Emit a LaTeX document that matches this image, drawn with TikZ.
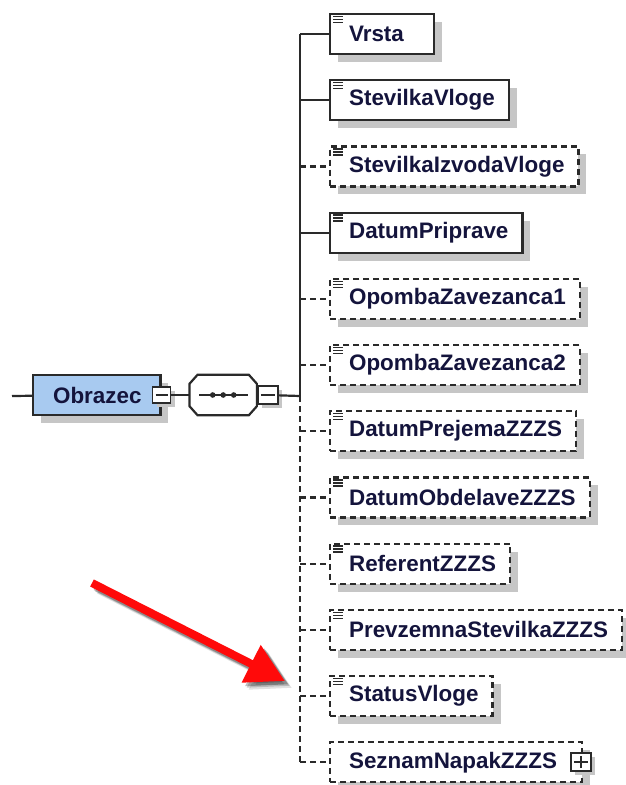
\documentclass[tikz,border=0pt]{standalone}
\usepackage{fontspec}
\setmainfont{Liberation Sans}
\usetikzlibrary{arrows.meta,positioning,shadows}
\definecolor{edge}{HTML}{2A2A2A}
\definecolor{elemfill}{HTML}{A8CAF0}
\definecolor{shade}{HTML}{C6C6C6}
\definecolor{ink}{HTML}{14143C}
\definecolor{pointer}{HTML}{FF0A0A}
\newcommand{\seqoutline}[1]{([xshift=8pt]#1.north west) -- ([xshift=-8pt]#1.north east) -- ([yshift=-9pt]#1.north east)
  -- ([yshift=9pt]#1.south east) -- ([xshift=-8pt]#1.south east) -- ([xshift=8pt]#1.south west)
  -- ([yshift=9pt]#1.south west) -- ([yshift=-9pt]#1.north west) -- cycle}

\begin{document}
\begin{tikzpicture}[x=1pt,y=-1pt,
  every node/.style={font=\fontsize{22.4}{24}\selectfont\bfseries,text=ink},
  wire/.style={draw=edge,line width=2.2pt},
  optwire/.style={wire,dash pattern=on 6pt off 4pt},
  elem/.style={draw=edge,line width=2.2pt,fill=white,anchor=west,minimum height=40pt,
    inner xsep=14pt,inner ysep=0pt,execute at begin node=\hspace*{5pt},
    drop shadow={shadow xshift=8pt,shadow yshift=-8pt,fill=shade,opacity=1}},
  optelem/.style={elem,dash pattern=on 6pt off 4pt},
  padr/.style={execute at end node=\hspace*{#1}},
  wideelem/.style={elem,padr=16pt},
  cplxelem/.style={optelem,padr=11pt},
  seqbox/.style={minimum width=67pt,minimum height=40pt,inner sep=0pt},
  minusbox/.style={draw=edge,line width=1.8pt,fill=white,minimum width=20pt,minimum height=18pt,inner sep=0pt,
    drop shadow={shadow xshift=4pt,shadow yshift=-4pt,fill=shade,opacity=1},
    path picture={\draw[edge,line width=1.6pt] ([xshift=3pt]path picture bounding box.west) -- ([xshift=-3pt]path picture bounding box.east);}},
  plusbox/.style={minusbox,
    path picture={\draw[edge,line width=1.6pt] ([xshift=3pt]path picture bounding box.west) -- ([xshift=-3pt]path picture bounding box.east)
      ([yshift=3pt]path picture bounding box.south) -- ([yshift=-3pt]path picture bounding box.north);}},
  ptr/.style={line width=8pt,-{Triangle[length=38pt,width=40pt]}}]
  \useasboundingbox (0,0) rectangle (626,785);

  % root element and sequence
  \coordinate (lead) at (12,396);
  \node[elem,fill=elemfill,inner xsep=15pt,execute at begin node={},padr=4pt] (obr) at (32,395) {Obrazec};
  \node[minusbox,minimum width=18pt,minimum height=16pt] (obrM) at (obr.east) {};
  \node[seqbox,right=18pt of obrM] (seq) {};
  \begin{scope}[shift={(8,8)}]
    \fill[shade] \seqoutline{seq};
  \end{scope}
  \draw[wire,fill=white] \seqoutline{seq};
  \draw[edge,line width=2pt] ([xshift=10pt]seq.west) -- ([xshift=-9pt]seq.east);
  \foreach \dx in {-10.5,0,10.5}
    \fill[edge] ([xshift=\dx pt]seq.center) circle (2.8pt);
  \node[minusbox,anchor=west] (seqM) at (seq.east) {};
  \coordinate (hub) at (300,396);
  \draw[wire] (lead) -- (obr);
  \draw[wire] (obrM) -- (seq);
  \draw[wire] (seqM) -- (hub);

  % children
  \foreach \name/\txt/\kind [count=\i from 0] in {
      vrsta/Vrsta/wideelem,
      stevVl/StevilkaVloge/elem,
      stevIzv/StevilkaIzvodaVloge/optelem,
      datPrip/DatumPriprave/elem,
      opomba1/OpombaZavezanca1/optelem,
      opomba2/OpombaZavezanca2/optelem,
      datPrej/DatumPrejemaZZZS/optelem,
      datObd/DatumObdelaveZZZS/optelem,
      referent/ReferentZZZS/optelem,
      prevzem/PrevzemnaStevilkaZZZS/optelem,
      status/StatusVloge/optelem,
      seznam/SeznamNapakZZZS/cplxelem}
    \node[\kind] (\name) at (329,34+66.2*\i) {\txt};
  % simple-type icons
  \foreach \name in {vrsta,stevVl,stevIzv,datPrip,opomba1,opomba2,datPrej,datObd,referent,prevzem,status}
    \foreach \dy in {3.5,6.5,9.5}
      \draw[edge,line width=1.4pt] ([xshift=4pt,yshift=-\dy pt]\name.north west) -- ++(10,0);
  \node[plusbox,anchor=west] (seznamP) at ([xshift=-13pt]seznam.east) {};

  % bus and connectors
  \draw[wire] (hub) -- (hub |- vrsta.west);
  \draw[optwire] (hub) -- (hub |- seznam.west);
  \foreach \name in {vrsta,stevVl,datPrip}
    \draw[wire] (hub |- \name.west) -- (\name.west);
  \foreach \name in {stevIzv,opomba1,opomba2,datPrej,datObd,referent,prevzem,status,seznam}
    \draw[optwire] (hub |- \name.west) -- (\name.west);

  % red pointer
  \coordinate (ptr0) at (92,583);
  \coordinate (ptr1) at (285,681);
  \foreach \o/\a in {7/0.12,5/0.18,3.5/0.25}
    \draw[ptr,black,opacity=\a] ([shift={(\o,\o)}]ptr0) -- ([shift={(\o,\o)}]ptr1);
  \draw[ptr,pointer] (ptr0) -- (ptr1);
\end{tikzpicture}
\end{document}
